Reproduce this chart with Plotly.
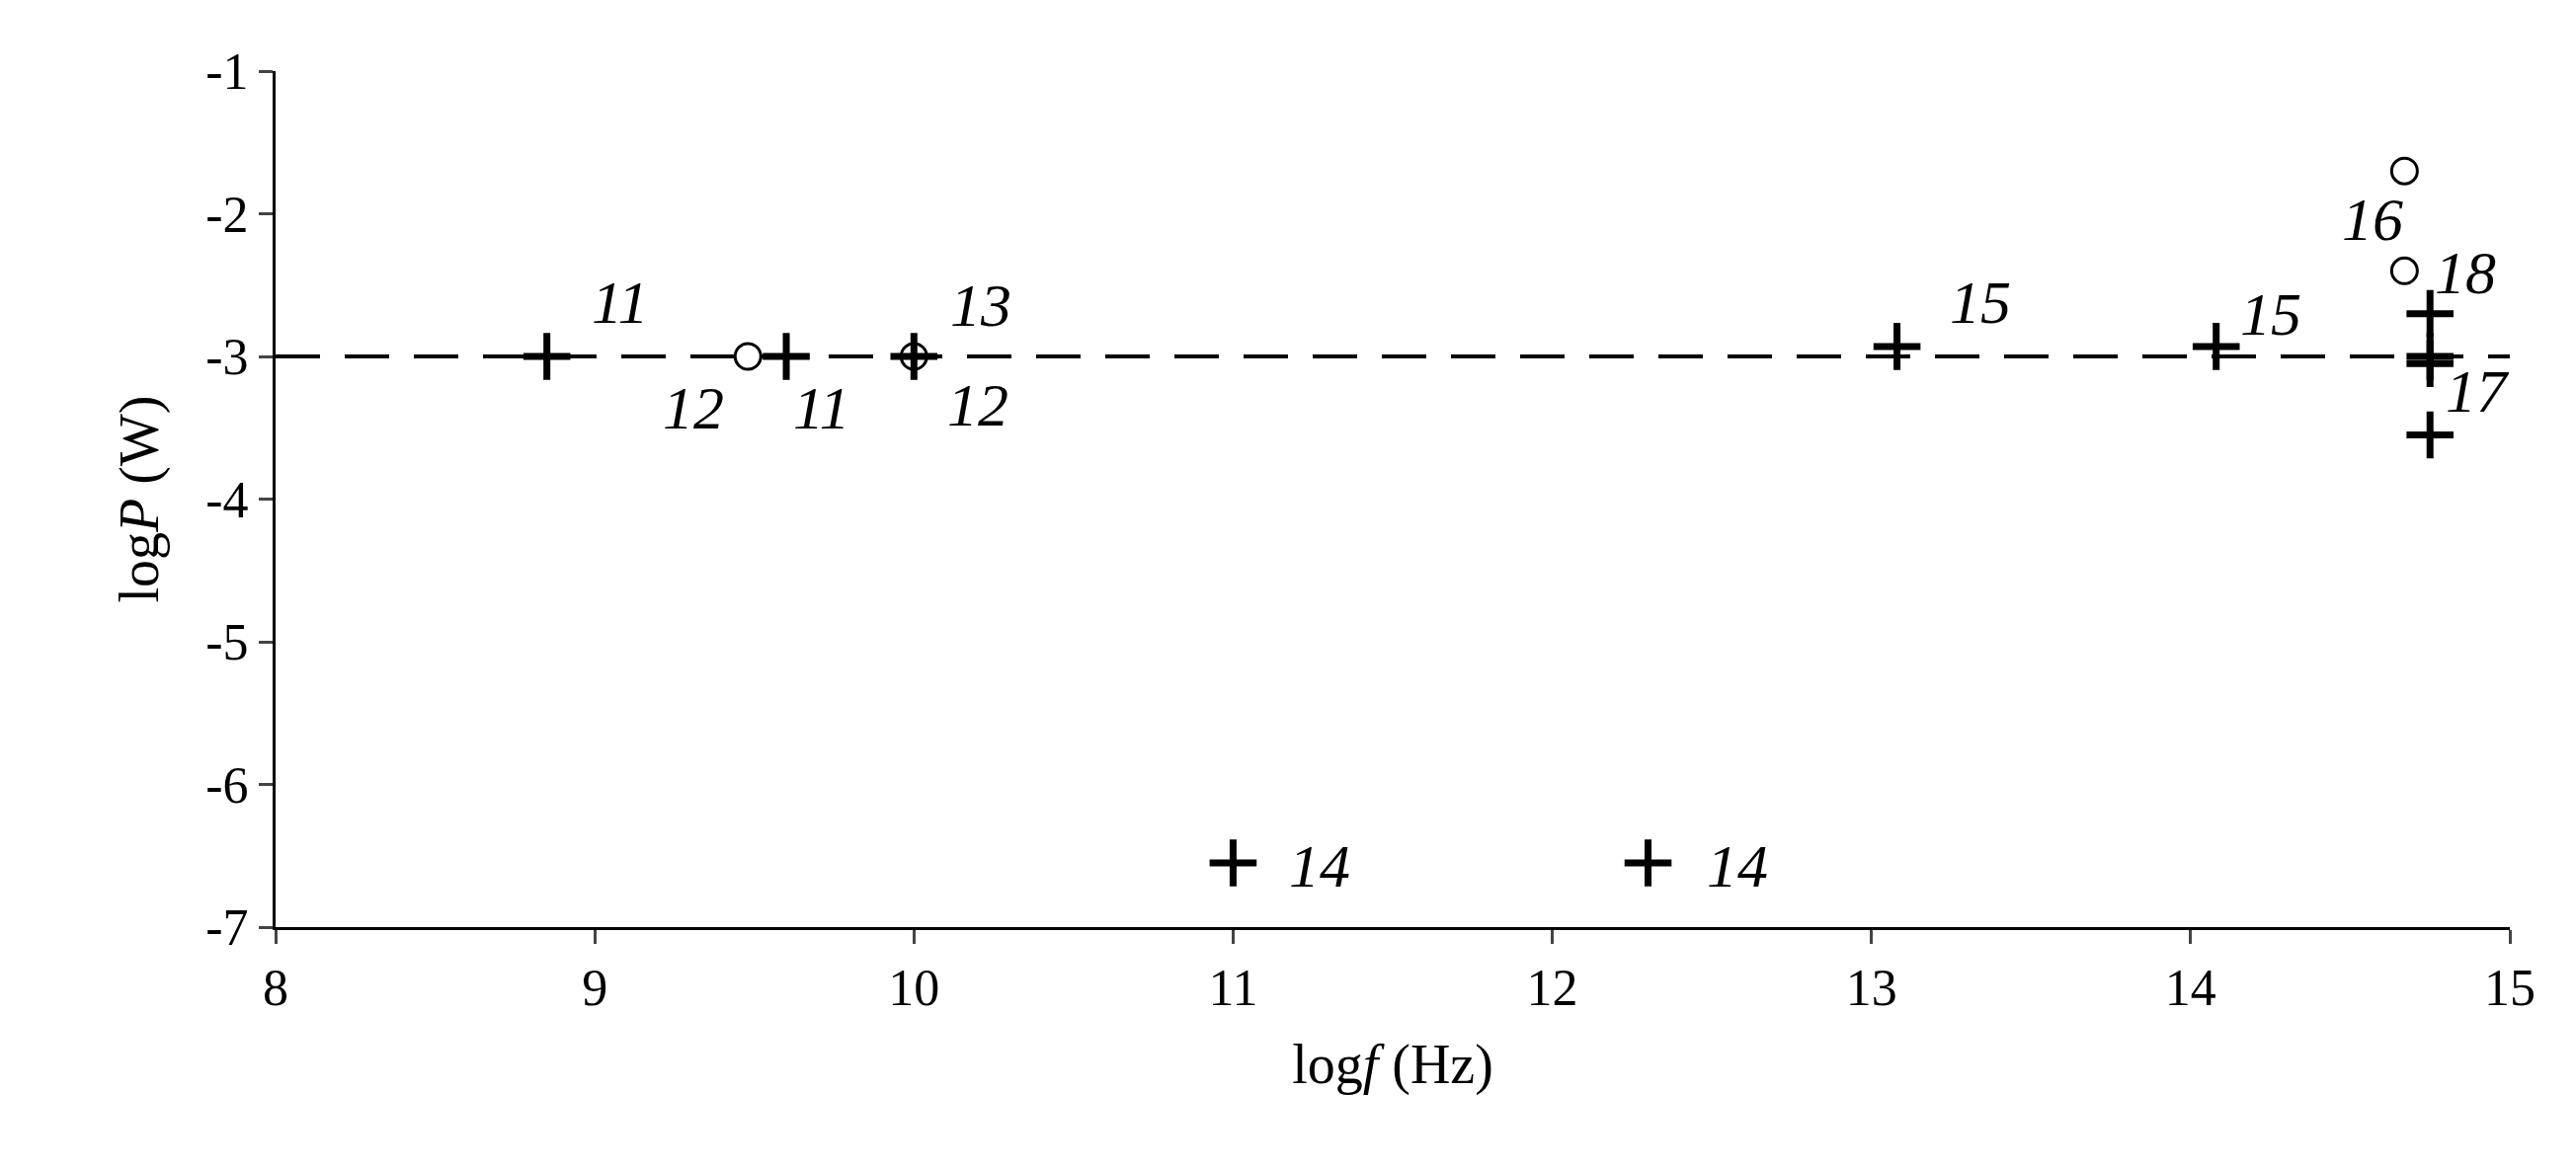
import plotly.graph_objects as go

cross_x = [8.85, 9.6, 10.0, 13.08, 14.08, 11.0, 12.3, 14.75, 14.75, 14.75, 14.75]
cross_y = [-3.0, -3.0, -3.0, -2.93, -2.93, -6.55, -6.55, -2.7, -3.0, -3.05, -3.55]
circle_x = [9.48, 10.0, 14.67, 14.67]
circle_y = [-3.0, -3.0, -1.7, -2.4]
ref_x = [8, 15]
ref_y = [-3, -3]
label_text = ["11", "12", "11", "13", "12", "15", "15", "16", "18", "17", "14", "14"]
label_x = [9.08, 9.31, 9.71, 10.21, 10.2, 13.34, 14.25, 14.57, 14.86, 14.9, 11.27, 12.58]
label_y = [-2.62, -3.36, -3.36, -2.64, -3.34, -2.62, -2.7, -2.04, -2.41, -3.24, -6.57, -6.57]

font = "Liberation Serif, Times New Roman, serif"

fig = go.Figure()
fig.add_trace(go.Scatter(x=ref_x, y=ref_y, mode="lines",
                         line=dict(color="black", width=4, dash="45px,25px")))
fig.add_trace(go.Scatter(x=circle_x, y=circle_y, mode="markers",
                         marker=dict(symbol="circle-open", size=26, color="black",
                                     line=dict(width=3))))
fig.add_trace(go.Scatter(x=cross_x, y=cross_y, mode="markers",
                         marker=dict(symbol="cross-thin-open", size=34, color="black",
                                     line=dict(width=7, color="black"))))
for t, x, y in zip(label_text, label_x, label_y):
    fig.add_annotation(x=x, y=y, text="<i>" + t + "</i>", showarrow=False,
                       font=dict(family=font, size=62, color="black"))

fig.update_layout(
    width=2608, height=1184,
    margin=dict(l=271, r=75, t=64, b=253),
    plot_bgcolor="white", paper_bgcolor="white",
    showlegend=False,
    font=dict(family=font, size=52, color="black"),
    xaxis=dict(range=[8, 15], tickvals=[8, 9, 10, 11, 12, 13, 14, 15],
               tickfont=dict(family=font, size=52),
               showline=True, linecolor="black", linewidth=3, ticks="outside",
               ticklen=14, tickwidth=3, showgrid=False, zeroline=False,
               title=dict(text="log<i>f</i> (Hz)", font=dict(family=font, size=56), standoff=30)),
    yaxis=dict(range=[-7, -1], tickvals=[-7, -6, -5, -4, -3, -2, -1],
               ticktext=["-7", "-6", "-5", "-4", "-3", "-2", "-1"],
               tickfont=dict(family=font, size=52),
               showline=True, linecolor="black", linewidth=3, ticks="outside",
               ticklen=14, tickwidth=3, showgrid=False, zeroline=False,
               title=dict(text="log<i>P</i> (W)", font=dict(family=font, size=56), standoff=30)),
)

fig.write_html("out.html")
